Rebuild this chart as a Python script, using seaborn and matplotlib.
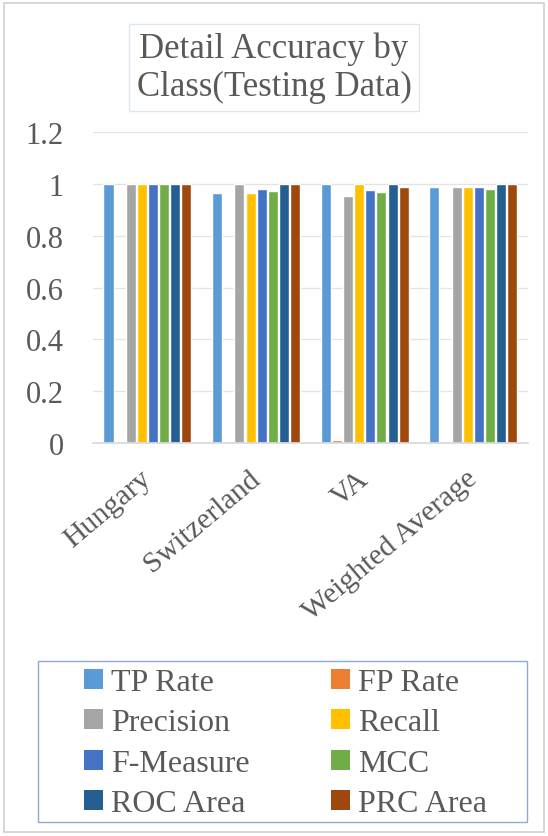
import matplotlib
matplotlib.use("Agg")
import matplotlib.pyplot as plt
import matplotlib.transforms as mtrans
import seaborn as sns
import pandas as pd
from matplotlib.patches import Rectangle, Patch

classes = ["Hungary", "Switzerland", "VA", "Weighted Average"]
metrics = ["TP Rate", "FP Rate", "Precision", "Recall", "F-Measure", "MCC", "ROC Area", "PRC Area"]
tp_rate = [1.0, 0.963, 1.0, 0.989]
fp_rate = [0.0, 0.0, 0.013, 0.003]
precision = [1.0, 1.0, 0.952, 0.987]
recall = [1.0, 0.963, 1.0, 0.989]
f_measure = [1.0, 0.98, 0.976, 0.987]
mcc = [1.0, 0.972, 0.967, 0.982]
roc_area = [1.0, 1.0, 1.0, 1.0]
prc_area = [1.0, 1.0, 0.989, 1.0]
yticks = [0, 0.2, 0.4, 0.6, 0.8, 1, 1.2]
ytick_labels = ["0", "0.2", "0.4", "0.6", "0.8", "1", "1.2"]

colors = ["#5B9BD5", "#ED7D31", "#A5A5A5", "#FFC000", "#4472C4", "#70AD47", "#255E91", "#9E480E"]
series = [tp_rate, fp_rate, precision, recall, f_measure, mcc, roc_area, prc_area]

rows = []
for m, vals in zip(metrics, series):
    for c, v in zip(classes, vals):
        rows.append({"Class": c, "Metric": m, "Value": v})
df = pd.DataFrame(rows)

sns.set_theme(style="white")
plt.rcParams["font.family"] = ["Liberation Serif", "DejaVu Serif"]
text_col = "#595959"

fig = plt.figure(figsize=(5.48, 8.37), dpi=100)
ax = fig.add_axes([0.170, 0.4695, 0.793, 0.3715])
sns.barplot(data=df, x="Class", y="Value", hue="Metric", hue_order=metrics,
            order=classes, palette=colors, width=0.82, gap=0.1, ax=ax,
            saturation=1, legend=False)

ax.set_ylim(0, 1.2)
ax.set_yticks(yticks)
ax.set_yticklabels(ytick_labels, fontsize=22, color=text_col)
ax.set_xlim(-0.5, 3.5)
ax.set_xlabel("")
ax.set_ylabel("")
ax.tick_params(axis="y", length=0, pad=21)
ax.tick_params(axis="x", length=0, pad=16)
ax.set_xticks(range(len(classes)))
ax.set_xticklabels(classes, rotation=40, ha="right", rotation_mode="anchor",
                   fontsize=21.5, color=text_col)
shift = mtrans.ScaledTranslation(-8 / 100, 0, fig.dpi_scale_trans)
for lbl in ax.get_xticklabels():
    lbl.set_transform(lbl.get_transform() + shift)
ax.grid(axis="y", color="#E3E3E3", linewidth=0.9)
ax.set_axisbelow(True)
for s in ["top", "right", "left"]:
    ax.spines[s].set_visible(False)
ax.spines["bottom"].set_color("#D9D9D9")

# Title in a box
fig.text(0.5, 0.9185, "Detail Accuracy by\nClass(Testing Data)", ha="center", va="center",
         fontsize=25, color=text_col, linespacing=1.2,
         bbox=dict(boxstyle="square,pad=0.22", fc="white", ec="#DCE6F0", lw=1))

# Legend frame
fig.patches.append(Rectangle((38 / 548, 1 - 823 / 837), (527 - 38) / 548, (823 - 662) / 837,
                             transform=fig.transFigure, fill=False, ec="#8FAACC", lw=1.0))

# Legend
handles = [Patch(facecolor=c, edgecolor="none") for c in colors]
order = [0, 2, 4, 6, 1, 3, 5, 7]
leg = fig.legend([handles[i] for i in order], [metrics[i] for i in order],
                 ncol=2, loc="upper left",
                 bbox_to_anchor=(84 / 548, 1 - 669 / 837),
                 bbox_transform=fig.transFigure,
                 fontsize=23, frameon=False,
                 handlelength=0.6, handleheight=0.6, handletextpad=0.25,
                 columnspacing=2.55, labelspacing=0.36, borderpad=0.0, borderaxespad=0.0,
                 labelcolor=text_col)

# Outer border
fig.patches.append(Rectangle((0.008, 0.005), 0.984, 0.99, transform=fig.transFigure,
                             fill=False, ec="#D0D0D0", lw=1.2))

fig.savefig("out.png", dpi=100)
